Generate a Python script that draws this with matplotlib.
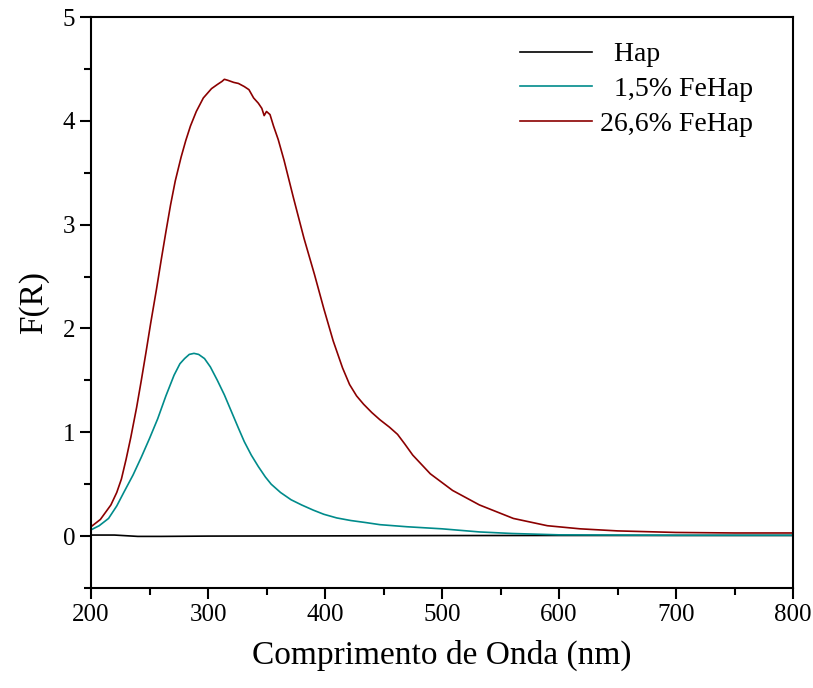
"""
Espectros de reflectância difusa (Kubelka-Munk) - Hap e FeHap.
"""

import numpy as np
import matplotlib
matplotlib.use("Agg")
import matplotlib.pyplot as plt
from matplotlib.ticker import MultipleLocator

plt.rcParams["font.family"] = ["Liberation Serif", "DejaVu Serif"]

# ----------------------------------------------------------------------------
# Dados
# ----------------------------------------------------------------------------
wl_hap = [200, 220, 240, 260, 300, 400, 500, 600, 700, 800]
fr_hap = [0.01, 0.01, -0.003, -0.003, 0.0, 0.002, 0.005, 0.006, 0.006, 0.006]

wl_fe15 = [200, 207, 215, 222, 228, 236, 243, 250, 257, 264, 271, 276, 280,
           284, 288, 292, 297, 302, 308, 314, 320, 326, 331, 337, 343, 349,
           354, 362, 371, 380, 390, 399, 410, 422, 435, 447, 470, 500, 532,
           560, 600, 700, 800]
fr_fe15 = [0.06, 0.10, 0.17, 0.29, 0.42, 0.59, 0.76, 0.94, 1.13, 1.35, 1.55,
           1.66, 1.71, 1.75, 1.76, 1.75, 1.71, 1.63, 1.50, 1.36, 1.20, 1.04,
           0.91, 0.78, 0.67, 0.57, 0.50, 0.42, 0.35, 0.30, 0.25, 0.21, 0.175,
           0.15, 0.13, 0.11, 0.09, 0.07, 0.04, 0.025, 0.012, 0.008, 0.008]

wl_fe266 = [200, 208, 217, 222, 226, 230, 234, 239, 243, 247, 251, 256, 260,
            264, 268, 272, 277, 281, 285, 290, 296, 303, 308, 312, 314, 317,
            322, 326, 331, 335, 339, 343, 346, 348, 350, 353, 356, 360, 365,
            373, 382, 391, 399, 407, 415, 421, 427, 433, 440, 447, 455, 462,
            468, 475, 490, 509, 532, 561, 590, 618, 650, 700, 750, 800]
fr_fe266 = [0.09, 0.16, 0.30, 0.42, 0.55, 0.74, 0.95, 1.24, 1.50, 1.77, 2.05,
            2.38, 2.66, 2.93, 3.19, 3.42, 3.65, 3.81, 3.95, 4.09, 4.22, 4.31,
            4.35, 4.38, 4.40, 4.39, 4.37, 4.36, 4.33, 4.30, 4.22, 4.17, 4.12,
            4.05, 4.09, 4.06, 3.95, 3.82, 3.62, 3.26, 2.87, 2.52, 2.19, 1.88,
            1.62, 1.46, 1.35, 1.27, 1.19, 1.12, 1.05, 0.98, 0.89, 0.78, 0.60,
            0.44, 0.30, 0.17, 0.10, 0.07, 0.05, 0.035, 0.03, 0.03]

labels = ["  Hap", "  1,5% FeHap", "26,6% FeHap"]
colors = ["#000000", "#008b8b", "#8b0000"]

# ----------------------------------------------------------------------------
# Gráfico
# ----------------------------------------------------------------------------
fig = plt.figure(figsize=(8.13, 6.88), dpi=100)
ax = fig.add_axes([91 / 813, 1 - 588 / 688, (793 - 91) / 813, (588 - 17) / 688])

series = [(wl_hap, fr_hap), (wl_fe15, fr_fe15), (wl_fe266, fr_fe266)]
for (x, y), lab, c in zip(series, labels, colors):
    ax.plot(x, y, color=c, linewidth=1.2, label=lab)

ax.set_xlim(200, 800)
ax.set_ylim(-0.5, 5)
ax.xaxis.set_major_locator(MultipleLocator(100))
ax.xaxis.set_minor_locator(MultipleLocator(50))
ax.yaxis.set_major_locator(MultipleLocator(1))
ax.yaxis.set_minor_locator(MultipleLocator(0.5))

ax.tick_params(which="both", direction="out", width=1.5, labelsize=18,
               top=False, right=False)
ax.tick_params(which="major", length=8)
ax.tick_params(which="minor", length=5)
for sp in ax.spines.values():
    sp.set_linewidth(1.5)

ax.set_xlabel("Comprimento de Onda (nm)", fontsize=24, labelpad=10)
ax.set_ylabel("F(R)", fontsize=24, labelpad=10)

ax.legend(loc="upper right", frameon=False, fontsize=20,
          handlelength=2.6, handletextpad=0.3, labelspacing=0.33,
          bbox_to_anchor=(0.979, 1.0))

fig.savefig("out.png", dpi=100)
plt.close(fig)
